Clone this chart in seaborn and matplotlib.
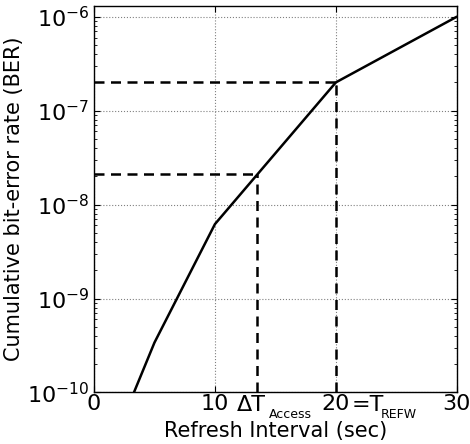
import numpy as np
import pandas as pd
import matplotlib
matplotlib.use("Agg")
import matplotlib.pyplot as plt
import seaborn as sns

# values
interval = [3.3, 5, 10, 20, 30]
ber = [1e-10, 3.4e-10, 6.2e-9, 2e-7, 1e-6]
t_access = 13.5
ber_access = 2.1e-8
t_refw = 20
ber_refw = 2e-7
xticks = [0, 10, 20, 30]
yticks = [1e-10, 1e-9, 1e-8, 1e-7, 1e-6]

sns.set_style("ticks")
plt.rcParams['font.family'] = ['DejaVu Sans']
plt.rcParams['text.color'] = 'black'
plt.rcParams['axes.labelcolor'] = 'black'
plt.rcParams['xtick.color'] = 'black'
plt.rcParams['ytick.color'] = 'black'
plt.rcParams['axes.edgecolor'] = 'black'

df = pd.DataFrame({'interval': interval, 'ber': ber})

fig = plt.figure(figsize=(4.70, 4.44), dpi=100)
ax = fig.add_axes([0.2, 0.116, 0.772, 0.8705])

sns.lineplot(data=df, x='interval', y='ber', color='black', linewidth=1.8, ax=ax)

# dashed guide lines to the two marked points
ax.plot([0, t_access], [ber_access, ber_access], 'k--', lw=1.8, dashes=(4, 2.6))
ax.plot([t_access, t_access], [1e-10, ber_access], 'k--', lw=1.8, dashes=(4, 2.6))
ax.plot([0, t_refw], [ber_refw, ber_refw], 'k--', lw=1.8, dashes=(4, 2.6))
ax.plot([t_refw, t_refw], [1e-10, ber_refw], 'k--', lw=1.8, dashes=(4, 2.6))

ax.set_yscale('log')
ax.set_xlim(0, 30)
ax.set_ylim(1e-10, 1.3e-6)
ax.set_xticks(xticks)
ax.set_xticklabels(['0', '10', '20', '30'])
ax.set_yticks(yticks)

ax.grid(True, which='major', linestyle=':', color='gray', linewidth=0.8)
ax.tick_params(which='both', direction='in', top=True, right=True, labelsize=16)
ax.tick_params(which='major', length=4, width=0.8)
ax.tick_params(which='minor', length=2, width=0.6)
ax.tick_params(axis='x', pad=1)
for s in ax.spines.values():
    s.set_linewidth(1.0)

# extra labels beside the x tick labels (small subscripts as own texts)
trans = ax.get_xaxis_transform()
ax.text(11.85, -0.047, '\u0394T', transform=trans, ha='left', va='baseline', fontsize=16)
ax.text(14.5, -0.066, 'Access', transform=trans, ha='left', va='baseline', fontsize=9)
ax.text(21.3, -0.047, '=T', transform=trans, ha='left', va='baseline', fontsize=16)
ax.text(23.7, -0.066, 'REFW', transform=trans, ha='left', va='baseline', fontsize=9)

ax.set_xlabel('Refresh Interval (sec)', fontsize=15, labelpad=5)
ax.set_ylabel('Cumulative bit-error rate (BER)', fontsize=15, labelpad=2)

fig.savefig('out.png', dpi=100)
